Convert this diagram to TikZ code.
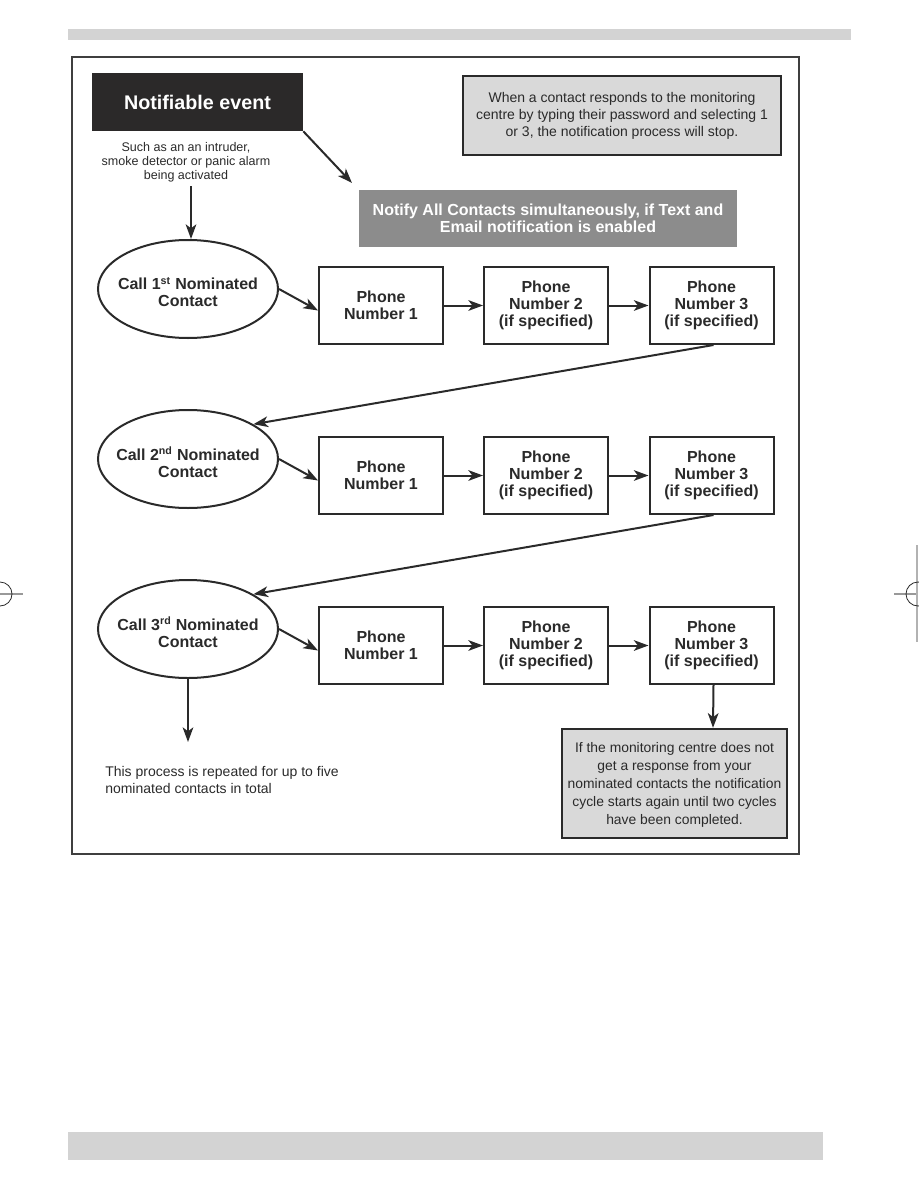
\documentclass[tikz,border=0pt]{standalone}
\usepackage{fontspec}
\setmainfont{Liberation Sans}
\usetikzlibrary{shapes.geometric,arrows.meta,calc}
\definecolor{darkbox}{HTML}{2B2929}
\definecolor{lightbox}{HTML}{D9D9D9}
\definecolor{midbox}{HTML}{8C8C8C}
\definecolor{barcol}{HTML}{D3D3D3}
\definecolor{ink}{HTML}{2A2A2A}
\tikzset{
  conn/.style={draw=ink,line width=1.5pt,-{Stealth[length=11pt,width=8pt,inset=3pt]}},
  phonebox/.style={draw=ink,line width=1.5pt,fill=white,minimum width=93pt,minimum height=57.75pt,inner sep=0pt,align=center,font=\fontsize{12}{12.75}\selectfont\bfseries,text=ink},
  callell/.style={ellipse,draw=ink,line width=1.5pt,minimum width=135pt,minimum height=73.5pt,inner sep=0pt},
  calltext/.style={inner sep=0pt,align=center,font=\fontsize{12}{12.75}\selectfont\bfseries,text=ink},
  notebox/.style={draw=ink,line width=1.8pt,fill=lightbox,inner sep=0pt,align=center,text=ink},
  plaintext/.style={inner sep=0pt,align=center,text=ink}
}
\begin{document}
\begin{tikzpicture}[x=0.75pt,y=-0.75pt]
\useasboundingbox (0,0) rectangle (918,1188);
% page bars
\fill[barcol] (68,29) rectangle (851,40);
\fill[barcol] (68,1132) rectangle (823,1160);
% crop marks
\draw[gray!80,line width=0.8pt] (0,594) -- (23,594);
\draw[ink,line width=0.6pt] (0,594) circle[radius=12];
\draw[gray!80,line width=0.8pt] (894,594) -- (918,594);
\draw[gray!60,line width=0.8pt] (917,545) -- (917,642);
\draw[ink,line width=0.6pt] (918,594) circle[radius=12];
% frame
\draw[ink!90,line width=1.1pt] (72,57) rectangle (799,854);

% top nodes
\node[fill=darkbox,minimum width=158.25pt,minimum height=43.5pt,inner sep=0pt,text=white,font=\fontsize{14.8}{16}\selectfont\bfseries] (event) at (197.5,102) {Notifiable event};
\node[plaintext,font=\fontsize{9.4}{10.5}\selectfont] (such) at (186,162) {Such as an an intruder,\\smoke detector or panic alarm\\being activated};
\node[notebox,minimum width=238.5pt,minimum height=59.25pt,font=\fontsize{10.5}{12.75}\selectfont] (info) at (622,115.5) {When a contact responds to the monitoring\\centre by typing their password and selecting 1\\or 3, the notification process will stop.};
\node[fill=midbox,minimum width=283.5pt,minimum height=42.75pt,inner sep=0pt,align=center,text=white,font=\fontsize{12}{12.75}\selectfont\bfseries] (notify) at (548,218.5) {Notify All Contacts simultaneously, if Text and\\Email notification is enabled};

% rows
\node[callell] (c1) at (188,289) {};
\node[callell] (c2) at (188,459) {};
\node[callell] (c3) at (188,629) {};
\node[calltext] (c1t) at (188,292) {Call 1\textsuperscript{st} Nominated\\Contact};
\node[calltext] (c2t) at (188,462) {Call 2\textsuperscript{nd} Nominated\\Contact};
\node[calltext] (c3t) at (188,632) {Call 3\textsuperscript{rd} Nominated\\Contact};

\foreach \r/\y in {1/305.5,2/475.5,3/645.5}{
  \node[phonebox] (p\r a) at (381,\y) {Phone\\Number 1};
  \node[phonebox] (p\r b) at (546,\y) {Phone\\Number 2\\(if specified)};
  \node[phonebox] (p\r c) at (711.5,\y) {Phone\\Number 3\\(if specified)};
}

\node[plaintext,align=left,anchor=north west,font=\fontsize{10.5}{12.75}\selectfont] (repeat) at (105,766) {This process is repeated for up to five\\nominated contacts in total};
\node[notebox,minimum width=168.75pt,minimum height=81.75pt] (final) at (674.5,783.5) {};
\node[plaintext,font=\fontsize{10.4}{13.6}\selectfont] (finalt) at (674.5,785) {If the monitoring centre does not\\get a response from your\\nominated contacts the notification\\cycle starts again until two cycles\\have been completed.};

\coordinate (endarrow) at (188,742);

% connectors
\draw[conn] (event.south east) -- (352,183);
\draw[conn] (such.south -| 191,0) ++(0,4) -- (c1.north -| 191,0);
\foreach \r in {1,2,3}{
  \draw[conn] (c\r.east) -- ($(p\r a.west)+(0,5)$);
  \draw[conn] (p\r a.east) -- (p\r b.west);
  \draw[conn] (p\r b.east) -- (p\r c.west);
}
\draw[conn] ($(p1c.south)+(2,0)$) -- (c2.28);
\draw[conn] ($(p2c.south)+(2,0)$) -- (c3.28);
\draw[conn] (c3.south) -- (endarrow);
\draw[conn] ($(p3c.south)+(2,0)$) -- (final.north -| 713,0);
\end{tikzpicture}
\end{document}
